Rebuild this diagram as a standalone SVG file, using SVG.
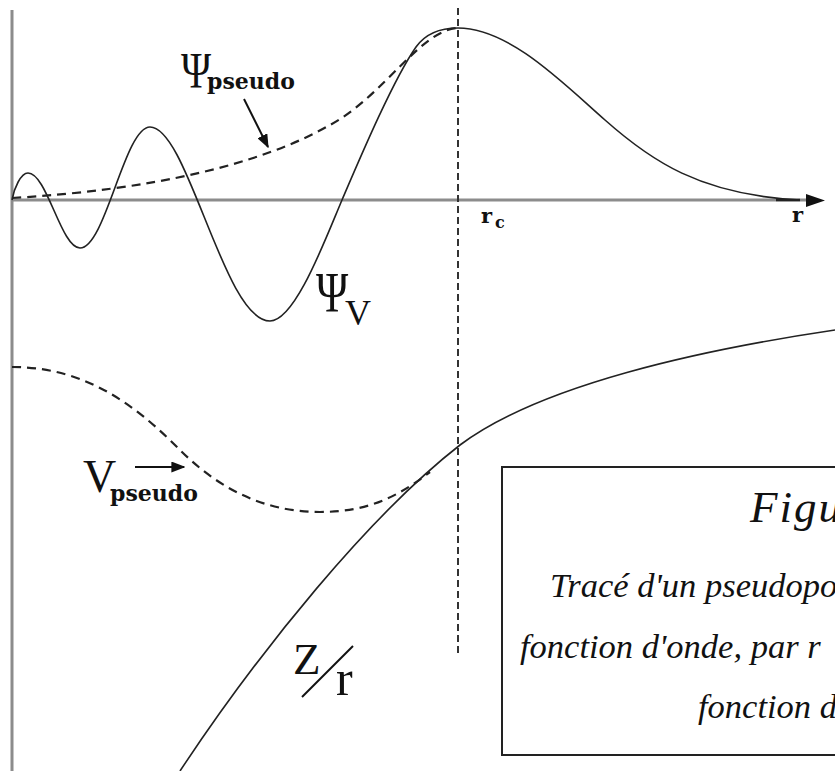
<svg xmlns="http://www.w3.org/2000/svg" width="835" height="771" viewBox="0 0 835 771">
<style>
.axis{stroke:#8c8c8c;stroke-width:3;fill:none}
.curve{stroke:#222;stroke-width:1.6;fill:none}
.dash{stroke:#222;stroke-width:2.2;fill:none;stroke-dasharray:9 6}
.vdash{stroke:#333;stroke-width:2;fill:none;stroke-dasharray:7 4}
.lbl{font-family:"Liberation Serif","Times New Roman",serif;fill:#111}
.sub{font-family:"DejaVu Serif",serif;font-weight:bold;fill:#111}
.cap{font-family:"Liberation Serif","Times New Roman",serif;font-style:italic;fill:#111}
.arr{stroke:#111;stroke-width:2;fill:none}
</style>
<defs>
<marker id="ah2" viewBox="0 0 10 10" refX="9" refY="5" markerWidth="14" markerHeight="11" markerUnits="userSpaceOnUse" orient="auto" preserveAspectRatio="none">
<path d="M0,0 L10,5 L0,10 z" fill="#111"/>
</marker>
</defs>
<rect width="835" height="771" fill="#fff"/>
<g id="axes">
<line class="axis" x1="12" y1="10" x2="12" y2="771"/>
<line class="axis" x1="12" y1="200" x2="810" y2="200"/>
<polygon points="806,194 825,200.5 806,207" fill="#111"/>
<line class="vdash" x1="458" y1="8" x2="458" y2="656"/>
</g>
<g id="psi-v-curve">
<path class="curve" d="M12,200 C14,188 21,173 28,173 C47,173 61,248 80,248 C105.5,248 124.5,127 150,127 C188,127 224,321 270,321 C295,321 325,240 342,200 C360,158 393,80 416,47 C426,33 440,28 458,28 C510,28 565,85 605,120 C650,160 700,195 800,200"/>
<line x1="776" y1="200" x2="800" y2="200" stroke="#222" stroke-width="2.5"/>
</g>
<g id="psi-pseudo-curve">
<path class="dash" d="M12,198 C150,190 260,165 330,125 C385,95 420,30 458,28"/>
</g>
<g id="v-pseudo-curve">
<path class="dash" d="M12,367 C90,367 140,410 180,450 C215,485 260,512 320,512 C370,512 400,495 430,472"/>
</g>
<g id="z-over-r-curve">
<path class="curve" d="M180,771 C260,650 370,515 460,445 C540,385 700,350 835,330"/>
</g>
<g id="label-psi-pseudo">
<text class="lbl" font-size="51" transform="translate(181,87) scale(0.8,1)">Ψ</text>
<text class="sub" font-size="22" x="207" y="89">pseudo</text>
</g>
<g id="label-psi-v">
<text class="lbl" font-size="56" transform="translate(316,312) scale(0.78,1)">Ψ</text>
<text class="lbl" font-size="36" x="345" y="325">V</text>
</g>
<g id="label-v-pseudo">
<text class="lbl" font-size="46" x="83" y="492">V</text>
<text class="sub" font-size="22" x="110" y="501">pseudo</text>
</g>
<g id="label-z-r">
<text class="lbl" font-size="45" x="293" y="674">Z</text>
<line x1="302" y1="697" x2="353" y2="646" stroke="#111" stroke-width="2"/>
<text class="lbl" font-size="50" x="336" y="695">r</text>
</g>
<g id="label-rc">
<text class="sub" font-size="21" x="481" y="223">r</text>
<text class="sub" font-size="16" x="495" y="228">c</text>
</g>
<g id="label-r">
<text class="sub" font-size="21" x="792" y="222">r</text>
</g>
<g id="connectors">
<line class="arr" x1="244" y1="99" x2="268" y2="147" marker-end="url(#ah2)"/>
<line class="arr" x1="135" y1="467" x2="184" y2="467" marker-end="url(#ah2)"/>
</g>
<g id="caption">
<rect x="502" y="467" width="400" height="288" fill="#fff" stroke="#222" stroke-width="2"/>
<text class="cap" font-size="45" x="750" y="522" letter-spacing="2">Figu</text>
<text class="cap" font-size="34.5" x="550" y="597">Tracé d'un pseudopo</text>
<text class="cap" font-size="34.5" x="520" y="658">fonction d'onde, par r</text>
<text class="cap" font-size="34.5" x="698" y="718">fonction d</text>
</g>
</svg>
